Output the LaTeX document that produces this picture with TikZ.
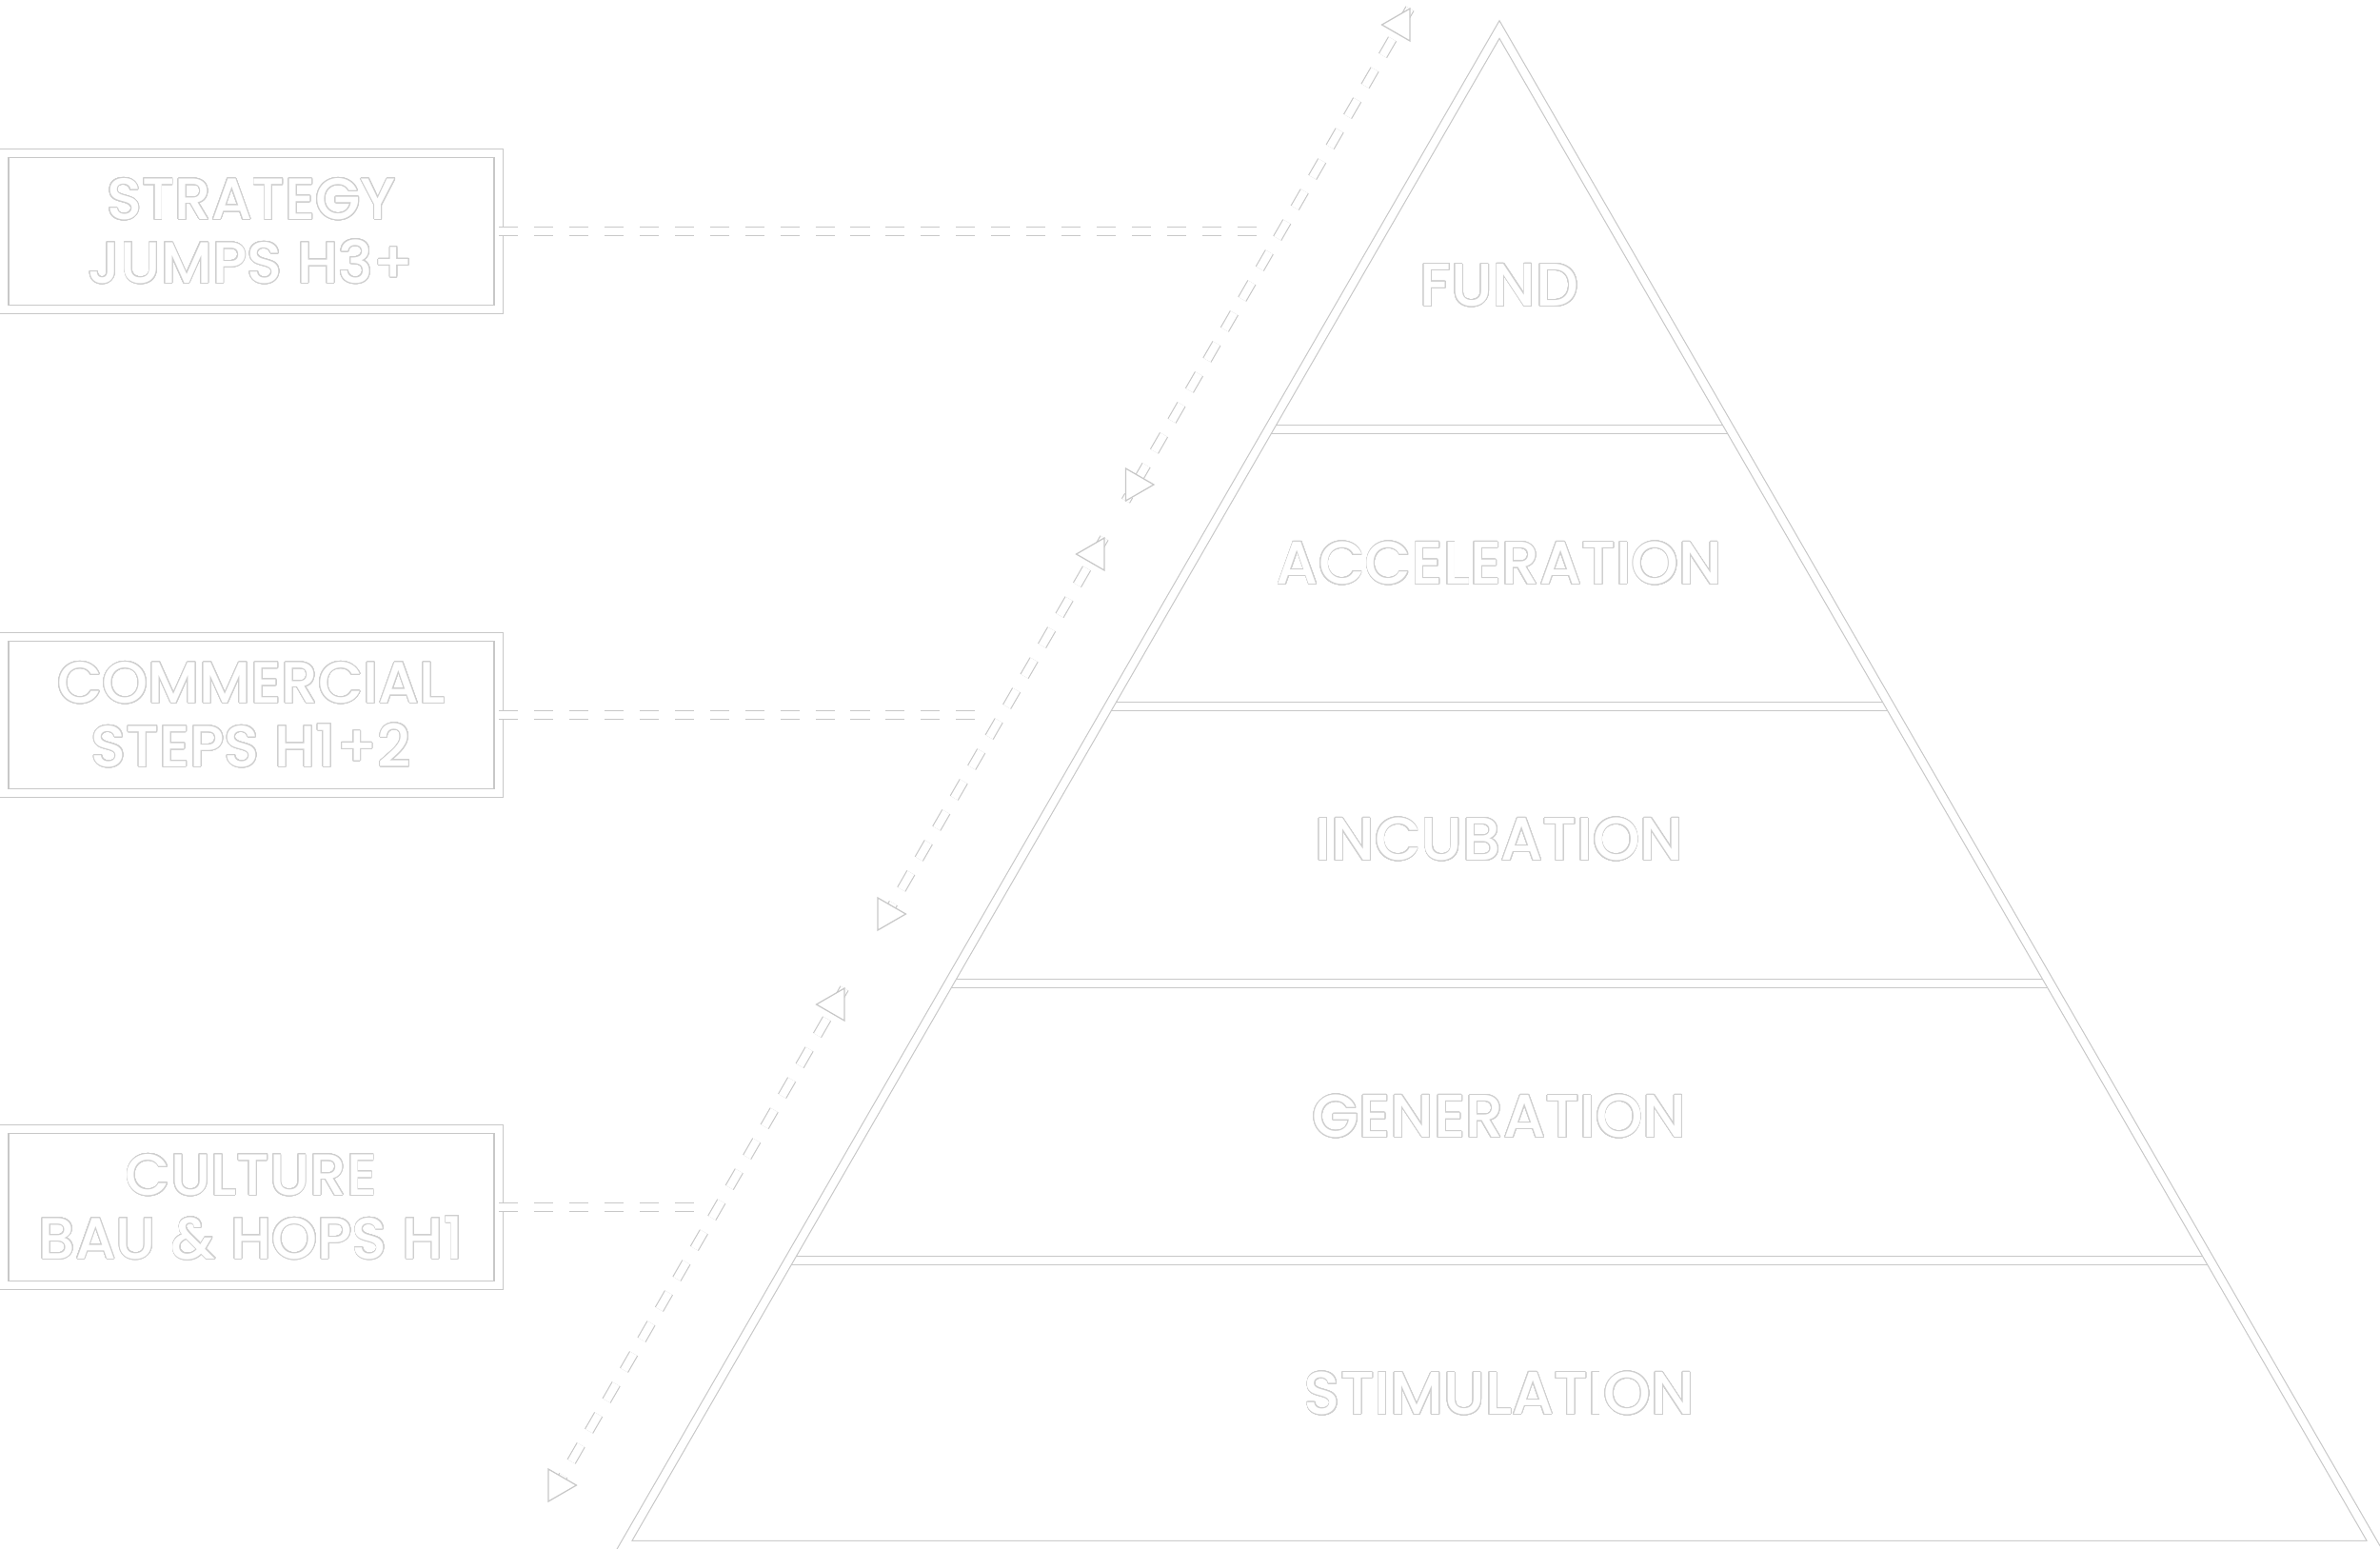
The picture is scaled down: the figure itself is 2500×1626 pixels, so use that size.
\documentclass[tikz,border=0pt]{standalone}
\usepackage{fontspec}
\setmainfont{Poppins Medium}
\usepackage{contour}
\contourlength{0.25pt}
\contournumber{32}
\usetikzlibrary{calc}
\definecolor{edgec}{HTML}{C8C8C8}
\definecolor{glyphc}{HTML}{CFCFCF}
\newcommand{\outl}[1]{\contour{glyphc}{#1}}
\newcommand{\tipmark}[2]{%
  \draw[tipmark] (#1) -- ($(#1)+(#2+150:34)$) -- ($(#1)+(#2+210:34)$) -- cycle;
}
\tikzset{
  band/.style={draw=edgec, line width=0.32pt, double=white,
               double distance=2.3pt},
  dashband/.style={band, dash pattern=on 5.7pt off 4.8pt},
  lbl/.style={text=white, font=\fontsize{18}{19}\selectfont,
              align=center, inner sep=0pt},
  labelbox/.style={band, lbl, font=\fontsize{17.4}{19}\selectfont,
                   minimum width=5.19cm, minimum height=1.64cm},
  tipmark/.style={draw=edgec, fill=white, line width=0.35pt, line join=miter}
}

\begin{document}
\begin{tikzpicture}[x=0.01cm, y=0.01cm]
  \path[use as bounding box, fill=white] (0,0) rectangle (2500,-1626);

  \coordinate (apex) at (1575,-31);
  \coordinate (bl) at (655.8,-1623);
  \coordinate (br) at (2494.2,-1623);
  \foreach \f in {0.26382, 0.44661, 0.62940, 0.81219}
    \draw[band] ($(apex)!\f!(bl)$) -- ($(apex)!\f!(br)$);
  \draw[band, line join=miter] (apex) -- (bl) -- (br) -- cycle;

  \foreach \n/\y/\t in {fund/300/FUND, accel/592/ACCELERATION,
      incub/882/INCUBATION, gener/1173/GENERATION, stimul/1464/STIMULATION}
    \node[lbl] (\n) at (1575,-\y) {\outl{\t}};

  \node[labelbox] (strategy) at (264,-243)
    {\outl{STRATEGY}\\\outl{JUMPS H3+}};
  \node[labelbox] (commercial) at (264,-751)
    {\outl{COMMERCIAL}\\\outl{STEPS H1+2}};
  \node[labelbox] (culture) at (264,-1268)
    {\outl{CULTURE}\\\outl{BAU \& HOPS H1}};

  \coordinate (j1) at (1321,-243);
  \coordinate (j2) at (1029,-751);
  \coordinate (j3) at (731,-1268);
  \draw[dashband] (strategy.east) -- (j1);
  \draw[dashband] (commercial.east) -- (j2);
  \draw[dashband] (culture.east) -- (j3);

  % horizon arrows along the left flank
  \coordinate (t1) at (1481,-9);
  \coordinate (b1) at (1182.5,-526);
  \coordinate (t2) at (1160,-565);
  \coordinate (b2) at (922,-977);
  \coordinate (t3) at (887,-1038);
  \coordinate (b3) at (576,-1577);
  \foreach \i in {1,2,3}{
    \draw[dashband] (t\i) -- (b\i);
    \tipmark{t\i}{60}
    \tipmark{b\i}{240}
  }
\end{tikzpicture}
\end{document}
